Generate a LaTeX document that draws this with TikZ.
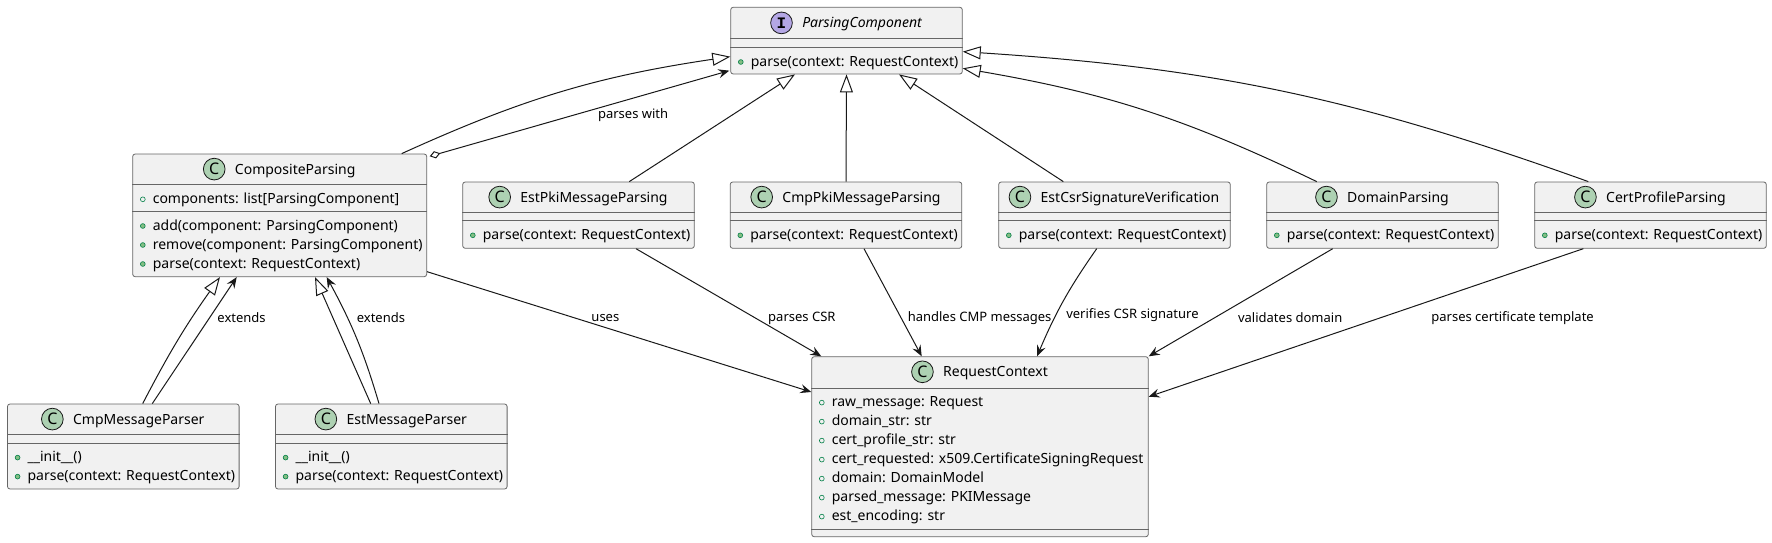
\documentclass[tikz,border=0pt]{standalone}
\usepackage{fontspec}
\setmainfont{Noto Sans}
\newfontfamily\iconfont{Liberation Mono}
\usetikzlibrary{positioning,arrows.meta}
\definecolor{boxgray}{HTML}{F1F1F1}
\definecolor{linecol}{HTML}{181818}
\definecolor{cgreen}{HTML}{ADD1B2}
\definecolor{ipurple}{HTML}{B4A7E5}
\definecolor{mgreen}{HTML}{84BE84}
\definecolor{dgreen}{HTML}{038048}
\tikzstyle{cls} = [draw=black!60, line width=0.8pt, fill=boxgray, rounded corners=2.5pt, inner sep=0pt, minimum width=231.6pt, minimum height=66.3pt]
\tikzstyle{clsname} = [inner sep=0pt, text height=10pt, text depth=0pt, font=\fontsize{14}{17}\selectfont]
\tikzstyle{cicon} = [circle, draw=linecol, line width=0.8pt, fill=cgreen, minimum size=21.7pt, inner sep=0pt, font=\fontsize{16}{16}\selectfont\bfseries]
\tikzstyle{iicon} = [cicon, fill=ipurple, font=\fontsize{16}{16}\selectfont\iconfont\bfseries]
\tikzstyle{members} = [anchor=north west, inner sep=0pt, align=left, font=\fontsize{14}{19}\selectfont]
\tikzstyle{divider} = [draw=black!60, line width=0.8pt]
\tikzstyle{lbl} = [inner sep=0pt, font=\fontsize{13}{15}\selectfont]
\tikzstyle{inh} = [draw=linecol, line width=1pt, -{Triangle[open, length=18pt, width=13pt]}]
\tikzstyle{edge} = [draw=linecol, line width=1pt, -{Stealth[length=11pt, width=9pt, inset=4pt]}]
\tikzstyle{aggr} = [draw=linecol, line width=1pt, {Diamond[open, length=11pt, width=7.5pt]}-{Stealth[length=11pt, width=9pt, inset=4pt]}]
\newcommand{\pubm}{\tikz[baseline=-4.2pt]\draw[draw=dgreen, fill=mgreen, line width=0.6pt] (0,0) circle (2.4pt);\hspace{7.3pt}}
\newcommand{\pubf}{\tikz[baseline=-4.2pt]\draw[draw=dgreen, line width=0.6pt] (0,0) circle (2.4pt);\hspace{7.3pt}}

\begin{document}
\begin{tikzpicture}[x=1pt, y=-1pt]
	\useasboundingbox (0,0) rectangle (1772,543);

	% class boxes
	\node[cls, minimum height=66.7pt] (pc) at ( 846.5, 40.65 ) {};
	\node[cls, minimum width=294pt, minimum height=122.7pt] (cp) at ( 279.7, 215.35 ) {};
	\node[cls] (epm) at ( 578.5, 215.15 ) {};
	\node[cls] (cpm) at ( 846, 215.15 ) {};
	\node[cls] (ecs) at ( 1114.5, 215.15 ) {};
	\node[cls] (dp) at ( 1382.5, 215.15 ) {};
	\node[cls] (cpp) at ( 1650.5, 215.15 ) {};
	\node[cls, minimum height=85pt] (cmp) at ( 123.3, 446.5 ) {};
	\node[cls, minimum height=85pt] (emp) at ( 391.3, 446.5 ) {};
	\node[cls, minimum width=336.6pt, minimum height=180pt] (rc) at ( 980, 446.7 ) {};

	% compartments
	\draw[divider] ([yshift=-32]pc.north west) -- ([yshift=-32]pc.north east);
	\draw[divider] ([yshift=-40.4]pc.north west) -- ([yshift=-40.4]pc.north east);
	\draw[divider] ([yshift=-31]cp.north west) -- ([yshift=-31]cp.north east);
	\draw[divider] ([yshift=-57.7]cp.north west) -- ([yshift=-57.7]cp.north east);
	\draw[divider] ([yshift=-30.7]epm.north west) -- ([yshift=-30.7]epm.north east);
	\draw[divider] ([yshift=-39]epm.north west) -- ([yshift=-39]epm.north east);
	\draw[divider] ([yshift=-30.7]cpm.north west) -- ([yshift=-30.7]cpm.north east);
	\draw[divider] ([yshift=-39]cpm.north west) -- ([yshift=-39]cpm.north east);
	\draw[divider] ([yshift=-30.7]ecs.north west) -- ([yshift=-30.7]ecs.north east);
	\draw[divider] ([yshift=-39]ecs.north west) -- ([yshift=-39]ecs.north east);
	\draw[divider] ([yshift=-30.7]dp.north west) -- ([yshift=-30.7]dp.north east);
	\draw[divider] ([yshift=-39]dp.north west) -- ([yshift=-39]dp.north east);
	\draw[divider] ([yshift=-30.7]cpp.north west) -- ([yshift=-30.7]cpp.north east);
	\draw[divider] ([yshift=-39]cpp.north west) -- ([yshift=-39]cpp.north east);
	\draw[divider] ([yshift=-31]cmp.north west) -- ([yshift=-31]cmp.north east);
	\draw[divider] ([yshift=-39.3]cmp.north west) -- ([yshift=-39.3]cmp.north east);
	\draw[divider] ([yshift=-31]emp.north west) -- ([yshift=-31]emp.north east);
	\draw[divider] ([yshift=-39.3]emp.north west) -- ([yshift=-39.3]emp.north east);
	\draw[divider] ([yshift=-31.6]rc.north west) -- ([yshift=-31.6]rc.north east);
	\draw[divider] ([yshift=-172.6]rc.north west) -- ([yshift=-172.6]rc.north east);

	% headers
	\node[clsname, xshift=15.5, yshift=-16] (pc-name) at (pc.north) {\itshape ParsingComponent};
	\node[iicon, left=9.3pt of pc-name] (pc-icon) {I};
	\node[clsname, xshift=15.5, yshift=-15.5] (cp-name) at (cp.north) {CompositeParsing};
	\node[cicon, left=9.3pt of cp-name] (cp-icon) {C};
	\node[clsname, xshift=15.5, yshift=-15.5] (epm-name) at (epm.north) {EstPkiMessageParsing};
	\node[cicon, left=9.3pt of epm-name] (epm-icon) {C};
	\node[clsname, xshift=15.5, yshift=-15.5] (cpm-name) at (cpm.north) {CmpPkiMessageParsing};
	\node[cicon, left=9.3pt of cpm-name] (cpm-icon) {C};
	\node[clsname, xshift=15.5, yshift=-15.5] (ecs-name) at (ecs.north) {EstCsrSignatureVerification};
	\node[cicon, left=9.3pt of ecs-name] (ecs-icon) {C};
	\node[clsname, xshift=15.5, yshift=-15.5] (dp-name) at (dp.north) {DomainParsing};
	\node[cicon, left=9.3pt of dp-name] (dp-icon) {C};
	\node[clsname, xshift=15.5, yshift=-15.5] (cpp-name) at (cpp.north) {CertProfileParsing};
	\node[cicon, left=9.3pt of cpp-name] (cpp-icon) {C};
	\node[clsname, xshift=15.5, yshift=-15.5] (cmp-name) at (cmp.north) {CmpMessageParser};
	\node[cicon, left=9.3pt of cmp-name] (cmp-icon) {C};
	\node[clsname, xshift=15.5, yshift=-15.5] (emp-name) at (emp.north) {EstMessageParser};
	\node[cicon, left=9.3pt of emp-name] (emp-icon) {C};
	\node[clsname, xshift=15.5, yshift=-15.5] (rc-name) at (rc.north) {RequestContext};
	\node[cicon, left=9.3pt of rc-name] (rc-icon) {C};

	% members
	\node[members] (pc-mem) at ([xshift=7.6, yshift=-45.8]pc.north west) {\strut\pubm parse(context: RequestContext)};
	\node[members] (cp-fld) at ([xshift=7.6, yshift=-36.4]cp.north west) {\strut\pubf components: list[ParsingComponent]};
	\node[members] (cp-mem) at ([xshift=7.6, yshift=-63.1]cp.north west) {\strut\pubm add(component: ParsingComponent)\\ \pubm remove(component: ParsingComponent)\\ \pubm parse(context: RequestContext)};
	\node[members] (epm-mem) at ([xshift=7.6, yshift=-44.4]epm.north west) {\strut\pubm parse(context: RequestContext)};
	\node[members] (cpm-mem) at ([xshift=7.6, yshift=-44.4]cpm.north west) {\strut\pubm parse(context: RequestContext)};
	\node[members] (ecs-mem) at ([xshift=7.6, yshift=-44.4]ecs.north west) {\strut\pubm parse(context: RequestContext)};
	\node[members] (dp-mem) at ([xshift=7.6, yshift=-44.4]dp.north west) {\strut\pubm parse(context: RequestContext)};
	\node[members] (cpp-mem) at ([xshift=7.6, yshift=-44.4]cpp.north west) {\strut\pubm parse(context: RequestContext)};
	\node[members] (cmp-mem) at ([xshift=7.6, yshift=-44.7]cmp.north west) {\strut\pubm \_\_init\_\_()\\ \pubm parse(context: RequestContext)};
	\node[members] (emp-mem) at ([xshift=7.6, yshift=-44.7]emp.north west) {\strut\pubm \_\_init\_\_()\\ \pubm parse(context: RequestContext)};
	\node[members] (rc-fld) at ([xshift=7.6, yshift=-37]rc.north west) {\strut\pubf raw\_message: Request\\ \pubf domain\_str: str\\ \pubf cert\_profile\_str: str\\ \pubf cert\_requested: x509.CertificateSigningRequest\\ \pubf domain: DomainModel\\ \pubf parsed\_message: PKIMessage\\ \pubf est\_encoding: str};

	% generalisations
	\draw[inh] ([xshift=122]cp.north) to[bend left=8] ([yshift=-16]pc.west);
	\draw[inh] ([xshift=50.8]epm.north) -- ([xshift=-51.5]pc.south);
	\draw[inh] (cpm.north) -- (pc.south);
	\draw[inh] ([xshift=-51.2]ecs.north) -- ([xshift=52.5]pc.south);
	\draw[inh] ([xshift=-65.8]dp.north) to[bend right=8] ([yshift=-27.7]pc.east);
	\draw[inh] ([xshift=-62.2]cpp.north) to[bend right=8] ([yshift=-11]pc.east);
	\draw[inh] ([xshift=19.4]cmp.north) to[bend left=4] ([xshift=-59.7]cp.south);
	\draw[inh] ([xshift=-20.6]emp.north) -- ([xshift=35.3]cp.south);

	% associations
	\draw[aggr] ([xshift=2.6, yshift=-2.7]cp.north east) -- ([xshift=-1, yshift=-30]pc.west) node[lbl, pos=0.67, xshift=2.7, yshift=-16] (lbl-with) {parses with};
	\draw[edge] ([xshift=29]cmp.north) -- ([xshift=-43]cp.south) node[lbl, pos=0.683, right=7pt] (lbl-ext1) {extends};
	\draw[edge] ([xshift=-12.3]emp.north) to[bend right=6] node[lbl, pos=0.683, right=9pt] (lbl-ext2) {extends} ([xshift=47]cp.south);
	\draw[edge] ([yshift=-56.35]cp.east) -- ([yshift=54.7]rc.west) node[lbl, pos=0.464, yshift=9.2] (lbl-uses) {uses};
	\draw[edge] ([xshift=57.5]epm.south) -- ([xshift=10]rc.north west) node[lbl, pos=0.646, right=12pt] (lbl-csr) {parses CSR};
	\draw[edge] ([xshift=18]cpm.south) -- ([xshift=-58.3]rc.north) node[lbl, pos=0.646, right=6pt] (lbl-cmp) {handles CMP messages};
	\draw[edge] ([xshift=-17.8]ecs.south) to[bend right=6] node[lbl, pos=0.646, right=10pt] (lbl-sig) {verifies CSR signature} ([xshift=57]rc.north);
	\draw[edge] ([xshift=-49.8]dp.south) -- (rc.north east) node[lbl, pos=0.642, right=23pt] (lbl-dom) {validates domain};
	\draw[edge] ([xshift=-67.2]cpp.south) -- ([yshift=50]rc.east) node[lbl, pos=0.472, right=52.7pt] (lbl-tpl) {parses certificate template};
\end{tikzpicture}
\end{document}
